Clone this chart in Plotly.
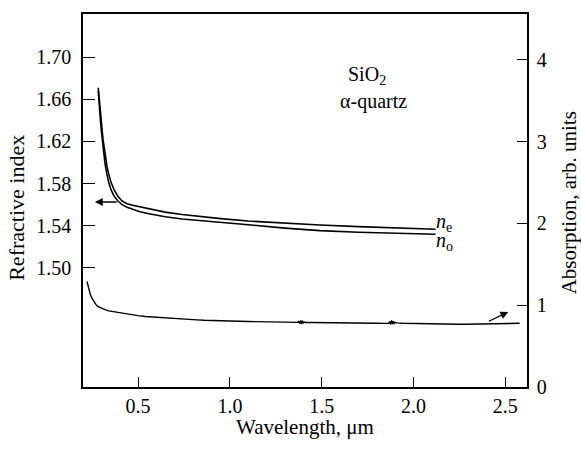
import plotly.graph_objects as go

# Refractive index data (wavelength in µm)
wl_ne = [0.283, 0.286, 0.29, 0.295, 0.30, 0.309, 0.32, 0.33, 0.34, 0.353, 0.37, 0.39,
         0.413, 0.44, 0.47, 0.51, 0.56, 0.647, 0.74, 0.838, 0.95, 1.1, 1.3, 1.49, 1.7, 1.9, 2.12]
n_e = [1.671, 1.664, 1.657, 1.648, 1.639, 1.622, 1.607, 1.597, 1.589, 1.581, 1.574, 1.568,
       1.5635, 1.5610, 1.5595, 1.5580, 1.5558, 1.5530, 1.5507, 1.5486, 1.5468, 1.5445, 1.5423,
       1.5408, 1.5392, 1.5380, 1.5367]

wl_no = [0.283, 0.286, 0.29, 0.295, 0.30, 0.309, 0.32, 0.33, 0.34, 0.353, 0.37, 0.39,
         0.413, 0.44, 0.47, 0.51, 0.56, 0.647, 0.74, 0.838, 0.95, 1.1, 1.3, 1.49, 1.7, 1.9, 2.12]
n_o = [1.668, 1.658, 1.650, 1.640, 1.630, 1.613, 1.599, 1.589, 1.581, 1.574, 1.568, 1.5635,
       1.5600, 1.5575, 1.5555, 1.5534, 1.5515, 1.5485, 1.5465, 1.5451, 1.5432, 1.5410, 1.5378,
       1.5354, 1.5338, 1.5328, 1.5319]

# Absorption data
wl_abs = [0.222, 0.23, 0.24, 0.25, 0.26, 0.27, 0.28, 0.30, 0.32, 0.34, 0.36, 0.38, 0.40, 0.43,
          0.46, 0.50, 0.54, 0.58, 0.62, 0.66, 0.70, 0.74, 0.78, 0.82, 0.86, 0.90, 0.94, 0.98,
          1.02, 1.06, 1.10, 1.14, 1.18, 1.22, 1.26, 1.30, 1.34, 1.37,
          1.375, 1.380, 1.385, 1.390, 1.395, 1.400, 1.405,
          1.41, 1.44, 1.48, 1.52, 1.56, 1.60, 1.64, 1.68, 1.72, 1.76, 1.80, 1.84, 1.865,
          1.870, 1.875, 1.880, 1.885, 1.890, 1.895, 1.900,
          1.91, 1.94, 1.97, 2.00, 2.04, 2.08, 2.12, 2.16, 2.20, 2.24, 2.28,
          2.32, 2.36, 2.40, 2.44, 2.48, 2.52, 2.56, 2.578]
absorption = [1.29, 1.21, 1.13, 1.08, 1.04, 1.01, 0.985, 0.96, 0.945, 0.93, 0.922, 0.912, 0.905,
              0.893, 0.884, 0.872, 0.862, 0.855, 0.847, 0.840, 0.834, 0.828, 0.825, 0.821, 0.816,
              0.812, 0.809, 0.807, 0.805, 0.803, 0.800, 0.799, 0.797, 0.795, 0.794, 0.792, 0.791,
              0.790,
              0.805, 0.775, 0.815, 0.770, 0.810, 0.778, 0.795,
              0.789, 0.788, 0.788, 0.786, 0.785, 0.784, 0.783,
              0.781, 0.781, 0.780, 0.779, 0.778, 0.779,
              0.800, 0.765, 0.815, 0.768, 0.805, 0.772, 0.790,
              0.784, 0.780, 0.778, 0.776, 0.773, 0.771, 0.769, 0.768, 0.767, 0.767, 0.768, 0.769,
              0.771, 0.772, 0.774, 0.776, 0.777, 0.778, 0.779]

x_ticks = [0.5, 1.0, 1.5, 2.0, 2.5]
y_ticks = [1.50, 1.54, 1.58, 1.62, 1.66, 1.70]
y2_ticks = [0, 1, 2, 3, 4]

FONT = "Liberation Serif, Times New Roman, DejaVu Serif, serif"
line_style = dict(color="black", width=1.6)

fig = go.Figure()
fig.add_trace(go.Scatter(x=wl_ne, y=n_e, mode="lines", line=line_style, yaxis="y"))
fig.add_trace(go.Scatter(x=wl_no, y=n_o, mode="lines", line=line_style, yaxis="y"))
fig.add_trace(go.Scatter(x=wl_abs, y=absorption, mode="lines", line=dict(color="black", width=1.4), yaxis="y2"))

annotations = [
    dict(x=1.748, y=1.683, xref="x", yref="y", text="SiO<sub>2</sub>", showarrow=False,
         font=dict(family=FONT, size=20, color="black")),
    dict(x=1.783, y=1.6576, xref="x", yref="y", text="α-quartz", showarrow=False,
         font=dict(family=FONT, size=20, color="black")),
    dict(x=2.112, y=1.543, xref="x", yref="y", text="<i>n</i><sub>e</sub>", showarrow=False,
         xanchor="left", font=dict(family=FONT, size=20, color="black")),
    dict(x=2.112, y=1.525, xref="x", yref="y", text="<i>n</i><sub>o</sub>", showarrow=False,
         xanchor="left", font=dict(family=FONT, size=20, color="black")),
    # arrows
    dict(x=0.265, y=1.5626, xref="x", yref="y", ax=0.391, ay=1.5626, axref="x", ayref="y",
         text="", showarrow=True, arrowhead=2, arrowsize=1.2, arrowwidth=1.3, arrowcolor="black"),
    dict(x=2.516, y=0.917, xref="x", yref="y2", ax=2.402, ay=0.795, axref="x", ayref="y2",
         text="", showarrow=True, arrowhead=2, arrowsize=1.2, arrowwidth=1.3, arrowcolor="black"),
    # axis titles
    dict(x=-0.149, y=0.48, xref="paper", yref="paper", text="Refractive index", textangle=-90,
         xanchor="center", yanchor="middle",
         showarrow=False, font=dict(family=FONT, size=22, color="black")),
    dict(x=1.095, y=0.493, xref="paper", yref="paper", text="Absorption, arb. units", textangle=-90,
         xanchor="center", yanchor="middle",
         showarrow=False, font=dict(family=FONT, size=21, color="black")),
    dict(x=0.5, y=-0.107, xref="paper", yref="paper", text="Wavelength, μm",
         xanchor="center", yanchor="middle",
         showarrow=False, font=dict(family=FONT, size=21, color="black")),
]

fig.update_layout(
    width=581, height=451,
    margin=dict(l=83, r=54, t=14, b=64),
    plot_bgcolor="white", paper_bgcolor="white",
    showlegend=False,
    font=dict(family=FONT, size=20, color="black"),
    annotations=annotations,
    xaxis=dict(range=[0.2, 2.618], tickvals=x_ticks, ticktext=[f"{v:.1f}" for v in x_ticks],
               ticks="inside", ticklen=10, tickwidth=1.3, tickcolor="black",
               tickfont=dict(family=FONT, size=20, color="black"),
               showline=True, linecolor="black", linewidth=1.5, mirror=True,
               showgrid=False, zeroline=False, ticklabelstandoff=0),
    yaxis=dict(range=[1.387, 1.741], tickvals=y_ticks, ticktext=[f"{v:.2f}" for v in y_ticks],
               ticks="inside", ticklen=12, tickwidth=1.3, tickcolor="black",
               tickfont=dict(family=FONT, size=20, color="black"),
               showline=True, linecolor="black", linewidth=1.5,
               showgrid=False, zeroline=False, ticklabelstandoff=6),
    yaxis2=dict(range=[0, 4.56], tickvals=y2_ticks, overlaying="y", side="right",
                ticks="inside", ticklen=10, tickwidth=1.3, tickcolor="black",
                tickfont=dict(family=FONT, size=20, color="black"),
                showline=True, linecolor="black", linewidth=1.5,
                showgrid=False, zeroline=False, ticklabelstandoff=4),
)

fig.write_html("out.html")
